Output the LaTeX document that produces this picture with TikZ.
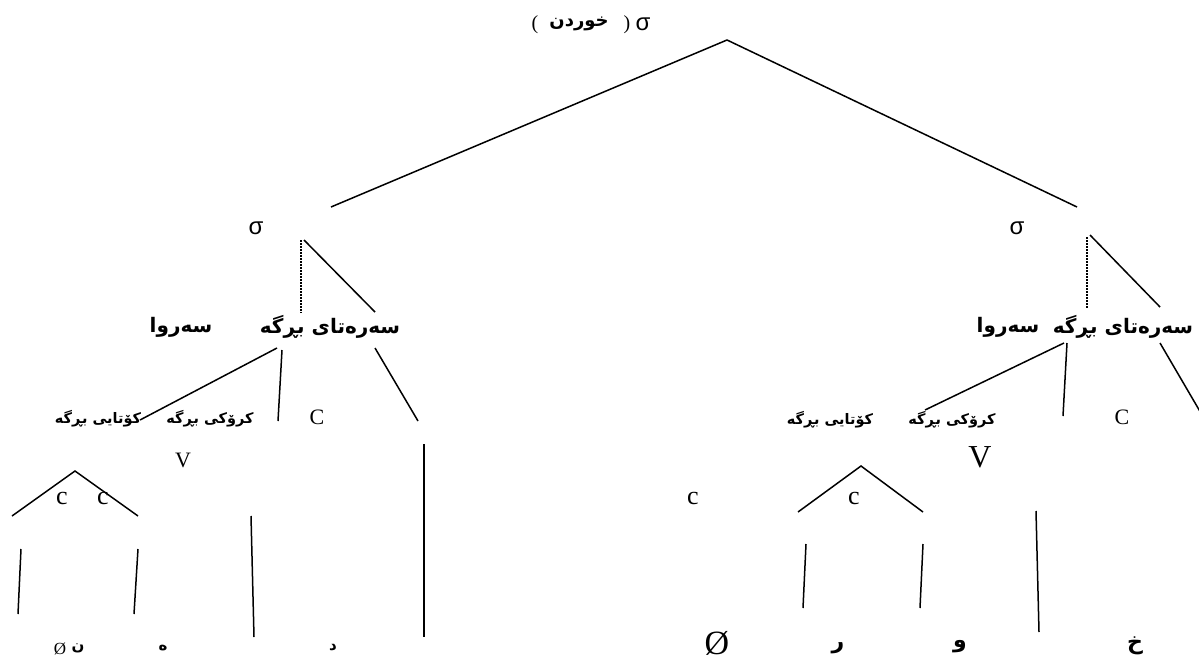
\documentclass[tikz,border=0pt]{standalone}
\usepackage{fontspec}
\setmainfont{Liberation Serif}
\newfontfamily\kufont[Script=Arabic]{DejaVu Sans}
\newfontfamily\grfont{Liberation Sans}
\TeXXeTstate=1
\begin{document}
\begin{tikzpicture}[x=1pt,y=-1pt,
  ln/.style={line width=1.5pt},
  dotln/.style={line width=1.6pt,dash pattern=on 1.5pt off 1.5pt},
  kubig/.style={inner sep=0pt,font={\kufont\bfseries\fontsize{20}{20}\selectfont}},
  kusmall/.style={inner sep=0pt,font={\kufont\bfseries\fontsize{14.5}{14.5}\selectfont}},
  kuleaf/.style={inner sep=0pt,font={\kufont\bfseries\fontsize{#1}{#1}\selectfont}},
  lat/.style={inner sep=0pt,font={\fontsize{#1}{#1}\selectfont}},
  sig/.style={inner sep=0pt,font={\grfont\fontsize{#1}{#1}\selectfont}}]
\useasboundingbox (0,0) rectangle (1199,661);
\begin{scope}
\clip (0,0) rectangle (1199,661);
% title
\node[lat=20] (lp) at (535,25) {(};
\node[kuleaf=18] (title) at (579,24) {\beginR خوردن\endR};
\node[lat=20] (rp) at (627,25) {)};
\node[sig=24] (s0) at (643,24) {σ};
% top branches
\coordinate (top) at (727,40);
\coordinate (tl) at (331,207);
\coordinate (tr) at (1077,207);
\draw[ln] (tl) -- (top) -- (tr);
% left sigma
\node[sig=24] (sL) at (256,228) {σ};
\draw[dotln] (301,240) -- (301,313);
\draw[ln] (304,240) -- (375,312);
\node[kubig] (onsL) at (330,327) {\beginR سەرەتای بڕگە\endR};
\node[kubig] (rhL) at (181,327) {\beginR سەروا\endR};
% right sigma
\node[sig=24] (sR) at (1017,228) {σ};
\draw[dotln] (1087,237) -- (1087,308);
\draw[ln] (1090,235) -- (1160,307);
\node[kubig] (onsR) at (1123,327) {\beginR سەرەتای بڕگە\endR};
\node[kubig] (rhR) at (1008,327) {\beginR سەروا\endR};
% left level 3
\draw[ln] (277,348) -- (140,420);
\draw[ln] (282,350) -- (278,421);
\draw[ln] (375,348) -- (418,421);
\node[kusmall] (codaL) at (98,419) {\beginR کۆتایی بڕگە\endR};
\node[kusmall] (nucL) at (210,419) {\beginR کرۆکی بڕگە\endR};
\node[lat=22] (CL) at (317,417) {C};
\node[lat=22] (VL) at (183,460) {V};
\draw[ln] (12,516) -- (75,471) -- (138,516);
\node[lat=26] (c1L) at (62,498) {c};
\node[lat=26] (c2L) at (103,498) {c};
\draw[ln] (21,549) -- (18,614);
\draw[ln] (138,549) -- (134,614);
\draw[ln] (251,516) -- (254,637);
\draw[ln] (424,444) -- (424,637);
\node[lat=17] (zL) at (60,649) {Ø};
\node[kuleaf=15] (nL) at (78,648) {ن};
\node[kuleaf=15] (hL) at (163,648) {ه};
\node[kuleaf=15] (dL) at (333,648) {د};
% right level 3
\draw[ln] (1064,343) -- (925,410);
\draw[ln] (1067,343) -- (1063,416);
\draw[ln] (1160,343) -- (1205,420);
\node[kusmall] (codaR) at (830,420) {\beginR کۆتایی بڕگە\endR};
\node[kusmall] (nucR) at (952,420) {\beginR کرۆکی بڕگە\endR};
\node[lat=22] (CR) at (1122,417) {C};
\node[lat=32] (VR) at (980,457) {V};
\node[lat=26] (c0R) at (693,498) {c};
\draw[ln] (798,512) -- (861,466) -- (923,512);
\node[lat=26] (c1R) at (854,498) {c};
\draw[ln] (806,544) -- (803,608);
\draw[ln] (923,544) -- (920,608);
\draw[ln] (1036,511) -- (1039,632);
\node[lat=34] (zR) at (717,643) {Ø};
\node[kuleaf=22] (rR) at (838,648) {ر};
\node[kuleaf=22] (wR) at (960,647) {و};
\node[kuleaf=22] (xR) at (1135,646) {خ};
\end{scope}
\end{tikzpicture}
\end{document}
